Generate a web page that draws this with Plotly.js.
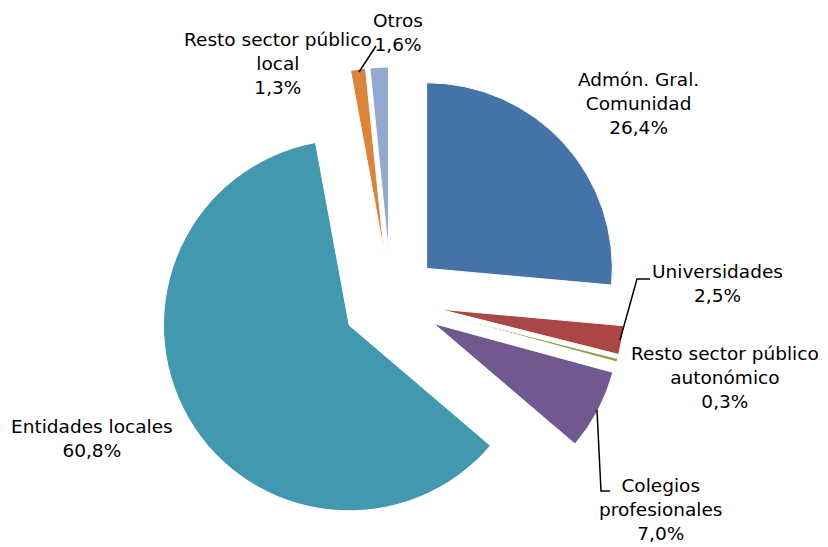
<!DOCTYPE html>
<html>
<head>
<meta charset="utf-8">
<script src="https://cdn.plot.ly/plotly-3.0.1.min.js"></script>
<style>html,body{margin:0;padding:0;background:#fff;}#chart{width:828px;height:547px;}</style>
</head>
<body>
<div id="chart"></div>
<script>
const categories = ["Admón. Gral. Comunidad", "Universidades", "Resto sector público autonómico", "Colegios profesionales", "Entidades locales", "Resto sector público local", "Otros"];
const labelLines = ["Admón. Gral.<br>Comunidad", "Universidades", "Resto sector público<br>autonómico", "Colegios<br>profesionales", "Entidades locales", "Resto sector público<br>local", "Otros"];
const values = [26.4, 2.5, 0.3, 7.0, 60.8, 1.3, 1.6];
const colors = ["#4572A7", "#AA4643", "#89A54E", "#71588F", "#4198AF", "#DB843D", "#93A9CF"];

const W = 828, H = 547;
const px = (x) => x / W;
const py = (y) => 1 - y / H;

// label positions (pixel centres of text block)
const labelPos = [[638, 103], [717, 284], [725, 377], [660, 509], [92, 438], [278, 63], [398, 33]];

const pct = values.map(v => v.toFixed(1).replace('.', ',') + '%');

const annotations = categories.map((c, i) => ({
  xref: 'paper', yref: 'paper',
  x: px(labelPos[i][0]), y: py(labelPos[i][1]),
  xanchor: 'center', yanchor: 'middle',
  text: labelLines[i] + '<br>' + pct[i],
  showarrow: false, align: 'center',
  font: {family: 'DejaVu Sans', size: 18.5, color: '#000'}
}));

function pathPx(pts) {
  return pts.map((p, i) => (i ? 'L' : 'M') + px(p[0]) + ',' + py(p[1])).join(' ');
}
const leader = {type: 'path', xref: 'paper', yref: 'paper', line: {color: '#000', width: 1.5}};
const shapes = [
  Object.assign({}, leader, {path: pathPx([[620, 340], [637, 279], [650, 279]])}),
  Object.assign({}, leader, {path: pathPx([[597, 410], [601, 491], [610, 491]])}),
  Object.assign({}, leader, {path: pathPx([[359, 72], [376, 46]])})
];

const data = [{
  type: 'pie',
  labels: categories,
  values: values,
  sort: false,
  direction: 'clockwise',
  rotation: 0,
  pull: values.map(() => 0.26),
  marker: {colors: colors, line: {color: '#ffffff', width: 1}},
  textinfo: 'none',
  hoverinfo: 'label+percent',
  showlegend: false,
  domain: {x: [px(157), px(625)], y: [py(535), py(67)]}
}];

const layout = {
  width: W, height: H,
  margin: {l: 0, r: 0, t: 0, b: 0},
  paper_bgcolor: '#fff',
  showlegend: false,
  annotations: annotations,
  shapes: shapes
};

Plotly.newPlot('chart', data, layout, {displayModeBar: false, staticPlot: true});
</script>
</body>
</html>
